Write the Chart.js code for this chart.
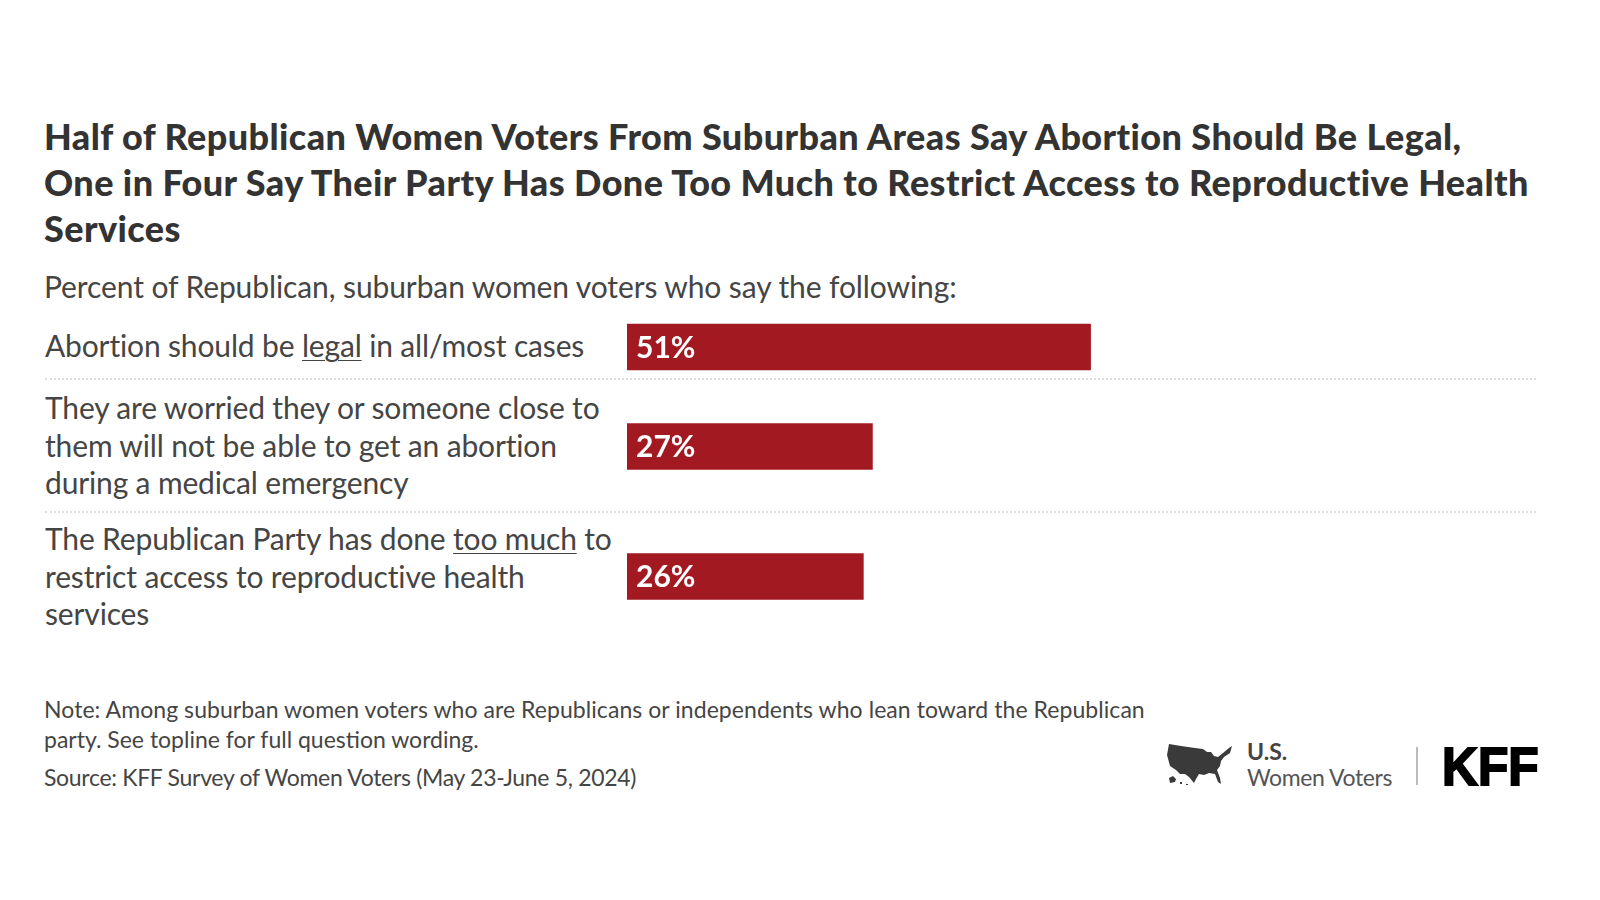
<!DOCTYPE html>
<html>
<head>
<meta charset="utf-8">
<script src="https://cdn.jsdelivr.net/npm/chart.js@4"></script>
<style>
    html, body { margin: 0; padding: 0; background: #fff; }
    body { width: 1600px; height: 900px; position: relative; overflow: hidden; font-family: Lato, sans-serif; color: #454545; }
    .abs { position: absolute; white-space: nowrap; }
    #title { left: 44px; top: 113px; font-size: 36px; line-height: 46px; font-weight: 900; color: #333; letter-spacing: 0.42px; }
    #subtitle { left: 44px; top: 267px; font-size: 30px; line-height: 38px; letter-spacing: -0.1px; }
    #rows { position: absolute; left: 45px; top: 314px; width: 1491px; }
    .row { display: flex; align-items: center; box-sizing: border-box; border-bottom: 2px dotted #ddd; font-size: 30px; line-height: 37.4px; letter-spacing: -0.15px; white-space: nowrap; }
    .row:last-child { border-bottom: none; }
    .row u { text-underline-offset: 3px; text-decoration-thickness: 1px; }
    #chartWrap { position: absolute; left: 627px; top: 313px; }
    .note { left: 44px; font-size: 23px; line-height: 30px; }
    #kff { left: 1442px; top: 734px; font-family: "Liberation Sans", sans-serif; font-weight: 700; font-size: 54px; line-height: 64px; color: #000; -webkit-text-stroke: 2px #000; transform: scaleX(0.92); transform-origin: left center; }
    #usTop { left: 1247px; top: 737px; font-size: 23px; line-height: 28px; font-weight: 700; color: #444; }
    #usBottom { left: 1247px; top: 762px; font-size: 23px; line-height: 30px; color: #555; letter-spacing: -0.4px; }
    #divider { position: absolute; left: 1416px; top: 747px; width: 2px; height: 38px; background: #bbb; }
    #map { position: absolute; left: 1167px; top: 743px; }
</style>
</head>
<body>
<div class="abs" id="title">Half of Republican Women Voters From Suburban Areas Say Abortion Should Be Legal,<br>One in Four Say Their Party Has Done Too Much to Restrict Access to Reproductive Health<br>Services</div>
<div class="abs" id="subtitle">Percent of Republican, suburban women voters who say the following:</div>

<div id="rows"></div>
<div id="chartWrap"><canvas id="barChart" width="909" height="328"></canvas></div>

<div class="abs note" style="top:694px;letter-spacing:0.06px">Note: Among suburban women voters who are Republicans or independents who lean toward the Republican</div>
<div class="abs note" style="top:724px;letter-spacing:0">party. See topline for full question wording.</div>
<div class="abs note" style="top:762px;letter-spacing:-0.31px">Source: KFF Survey of Women Voters (May 23-June 5, 2024)</div>

<svg id="map" width="66" height="43" viewBox="0 0 66 43">
    <path fill="#3a3a3a" d="M2 1 L14 3 L28 5 L36 6 L40 9 L44 9 L47 13 L51 14 L56 10 L62 5 L65 3 L63 10 L57 14 L54 18 L53 23 L50 27 L53 35 L54 41 L51 39 L48 31 L42 30 L37 32 L32 31 L29 36 L27 40 L22 34 L18 31 L13 31 L9 27 L3 23 L0 12 Z"/>
    <path fill="#3a3a3a" d="M2 35 L6 33 L9 36 L8 39 L3 40 Z M13 39 L15 39 L15 41 L13 41 Z M19 41 L21 41 L21 42 L19 42 Z"/>
</svg>
<div class="abs" id="usTop">U.S.</div>
<div class="abs" id="usBottom">Women Voters</div>
<div id="divider"></div>
<div class="abs" id="kff">KFF</div>

<script>
// Row labels, <u> marks the underlined words
const categories = [
    'Abortion should be <u>legal</u> in all/most cases',
    'They are worried they or someone close to<br>them will not be able to get an abortion<br>during a medical emergency',
    'The Republican Party has done <u>too much</u> to<br>restrict access to reproductive health<br>services'
];
const values = [51, 27, 26];

const barColor = '#a31921';
const rowHeights = [66, 133, 127];

// Build the label rows first, the bars are centred on them
const rowsEl = document.getElementById('rows');
categories.forEach((label, i) => {
    const row = document.createElement('div');
    row.className = 'row';
    row.style.height = rowHeights[i] + 'px';
    const span = document.createElement('span');
    span.innerHTML = label;
    row.appendChild(span);
    rowsEl.appendChild(row);
});

// Middle of a row, measured from the top of the canvas
function rowCentre(i) {
    const canvasTop = document.getElementById('barChart').getBoundingClientRect().top;
    const box = rowsEl.children[i].getBoundingClientRect();
    return box.top + box.height / 2 - canvasTop;
}

// Draw the percent labels inside the bars
const barLabels = {
    id: 'barLabels',
    afterDatasetsDraw(chart) {
        const ctx = chart.ctx;
        const meta = chart.getDatasetMeta(0);
        ctx.save();
        ctx.fillStyle = '#fff';
        ctx.font = '700 30px Lato, sans-serif';
        ctx.textBaseline = 'middle';
        meta.data.forEach((bar, i) => {
            ctx.fillText(values[i] + '%', chart.scales.x.getPixelForValue(0) + 9, bar.y + 1);
        });
        ctx.restore();
    }
};

new Chart(document.getElementById('barChart'), {
    type: 'bar',
    data: {
        datasets: [{
            data: values.map((v, i) => ({ x: v, y: rowCentre(i) })),
            backgroundColor: barColor,
            barThickness: 46
        }]
    },
    options: {
        indexAxis: 'y',
        responsive: false,
        animation: false,
        plugins: { legend: { display: false }, tooltip: { enabled: false } },
        scales: {
            x: { type: 'linear', min: 0, max: 100, display: false },
            y: { type: 'linear', min: 0, max: 328, reverse: true, offset: false, display: false }
        }
    },
    plugins: [barLabels]
});
</script>
</body>
</html>
